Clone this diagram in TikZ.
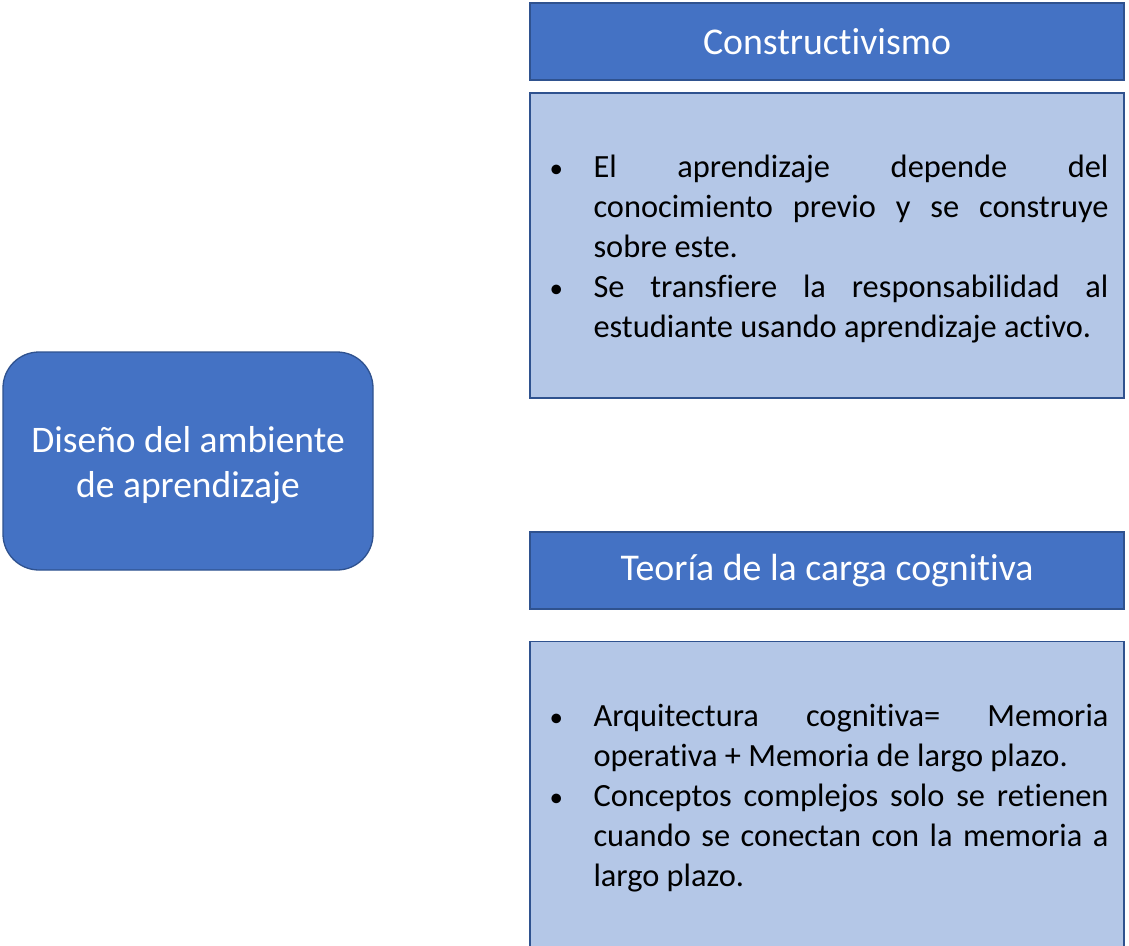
\documentclass[tikz,border=0pt]{standalone}
\usepackage{fontspec}
\setmainfont{Carlito}[Ligatures=NoCommon]
\definecolor{hdblue}{HTML}{4472C4}
\definecolor{hdline}{HTML}{2F528F}
\definecolor{bdblue}{HTML}{B4C7E7}
\newcommand{\bulletitem}[1]{\hyphenpenalty=10000\exhyphenpenalty=10000\noindent\hangindent=48pt\hangafter=1\makebox[48pt][l]{\hspace{4pt}{\fontsize{27}{27}\selectfont\textbullet}}#1\par}
\begin{document}
\begin{tikzpicture}[x=1pt,y=-1pt,
  mainbox/.style={draw=hdline,fill=hdblue,line width=1.3pt,rounded corners=36pt,minimum width=370pt,minimum height=218pt,text=white,align=center,font=\fontsize{37.5}{45}\selectfont},
  headbox/.style={draw=hdline,fill=hdblue,line width=1.3pt,minimum width=594pt,minimum height=77pt,inner sep=0pt,text=white,font=\fontsize{37.8}{40}\selectfont},
  bodybox/.style={draw=hdline,fill=bdblue,line width=1.3pt,minimum width=594pt,minimum height=305pt,inner xsep=15.5pt,text width=563pt,align=justify,font=\fontsize{32.4}{40}\selectfont}]
\clip (0,0) rectangle (1129,945);
\fill[white] (0,0) rectangle (1129,945);
\node[mainbox] (diseno) at (188,461) {\rule{0pt}{34pt}Diseño del ambiente\\de aprendizaje};
\node[headbox] (constr) at (827,41.5) {Constructivismo};
\node[bodybox] (constrtxt) at (827,245.5) {\rule{0pt}{30pt}\bulletitem{El aprendizaje depende del conocimiento previo y se construye sobre este.}\bulletitem{Se transfiere la responsabilidad al estudiante usando aprendizaje activo.}};
\node[headbox] (carga) at (827,570.5) {Teoría de la carga cognitiva};
\node[bodybox] (cargatxt) at (827,794) {\rule{0pt}{30pt}\bulletitem{Arquitectura cognitiva= Memoria operativa + Memoria de largo plazo.}\bulletitem{Conceptos complejos solo se retienen cuando se conectan con la memoria a largo plazo.}};
\end{tikzpicture}
\end{document}
